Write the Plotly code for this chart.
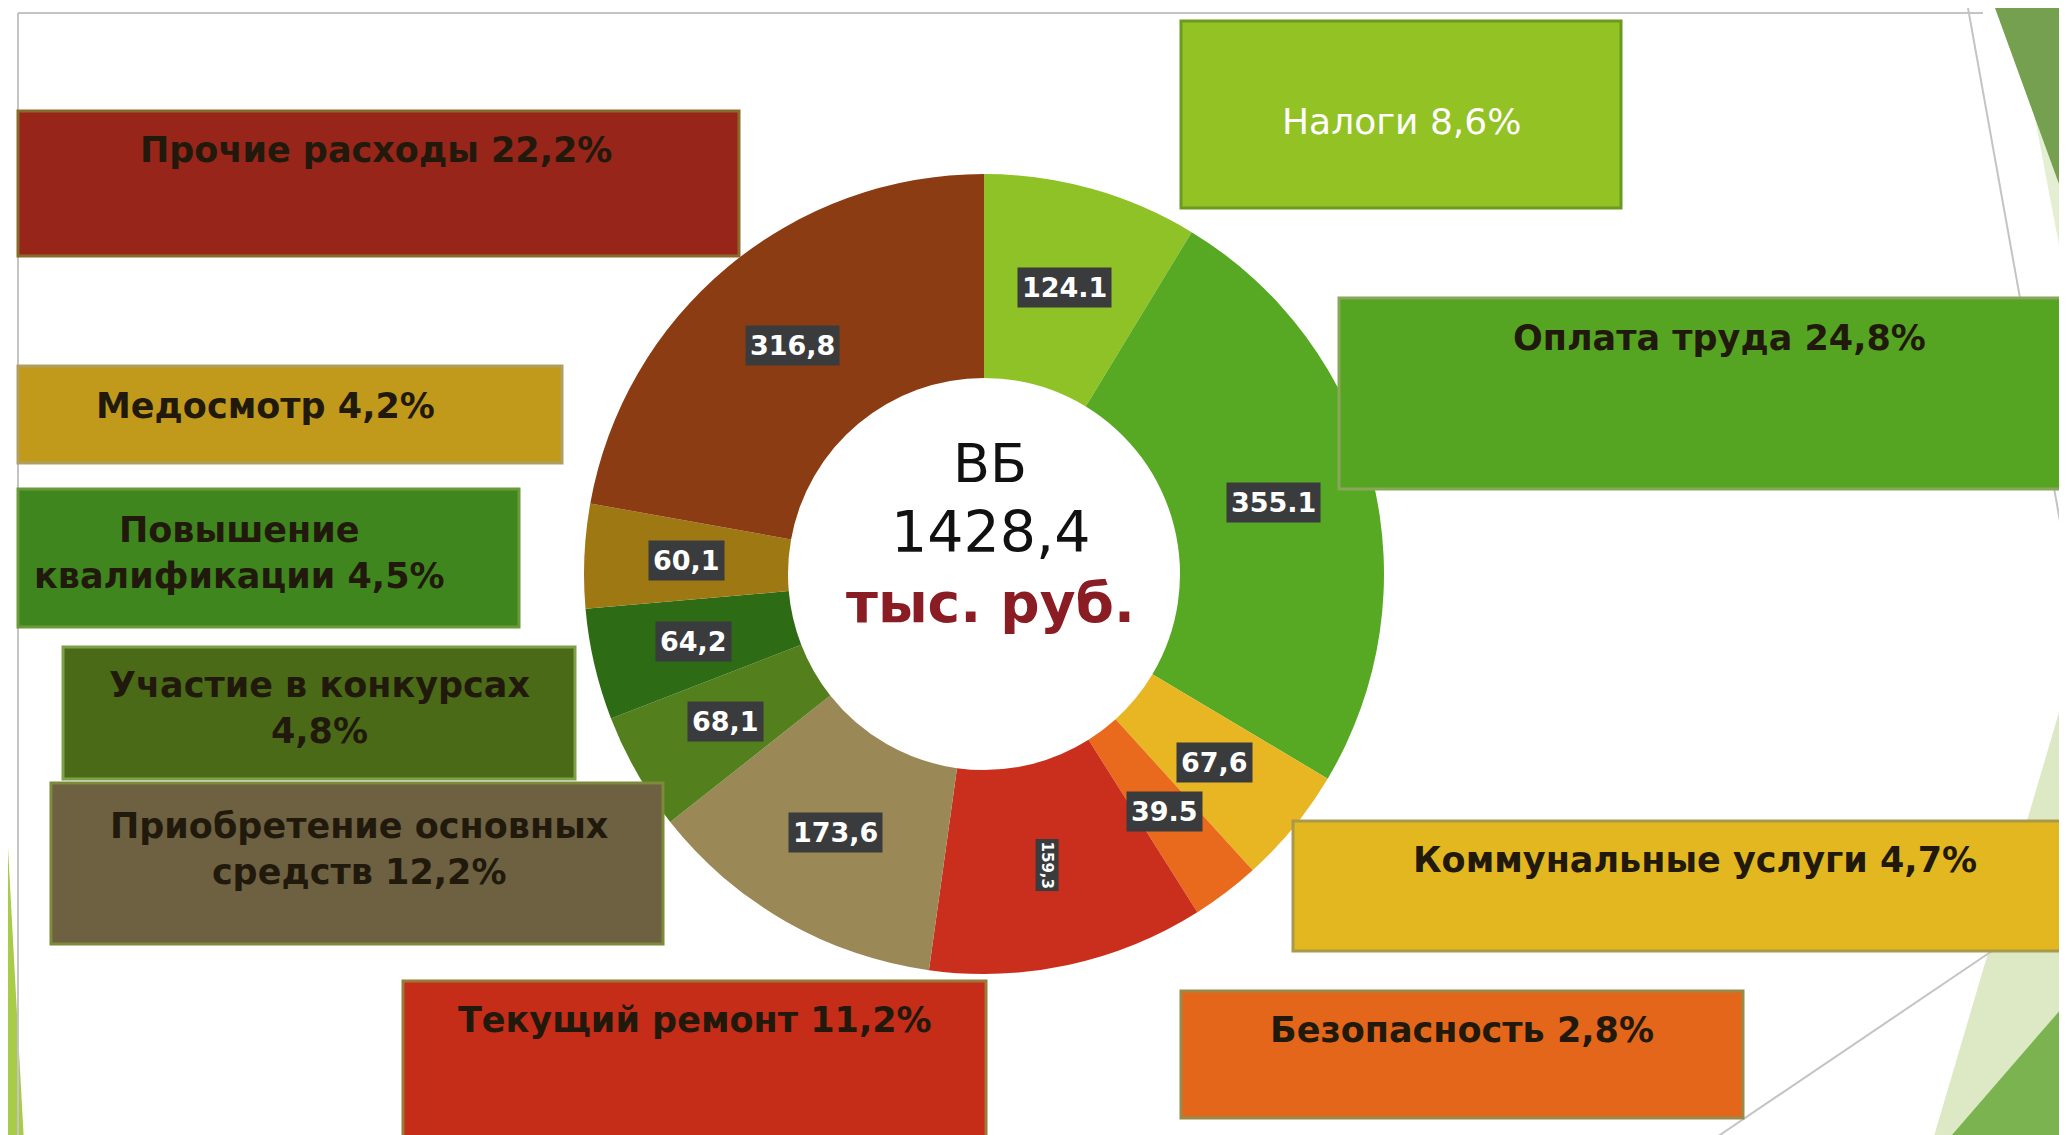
import math
import plotly.graph_objects as go

# ---------------- data ----------------
categories = ["Налоги", "Оплата труда", "Коммунальные услуги", "Безопасность",
              "Текущий ремонт", "Приобретение основных средств", "Участие в конкурсах",
              "Повышение квалификации", "Медосмотр", "Прочие расходы"]
values = [124.1, 355.1, 67.6, 39.5, 159.3, 173.6, 68.1, 64.2, 60.1, 316.8]
value_labels = ["124.1", "355.1", "67,6", "39.5", "159,3", "173,6", "68,1", "64,2", "60,1", "316,8"]
percent_labels = ["8,6%", "24,8%", "4,7%", "2,8%", "11,2%", "12,2%", "4,8%", "4,5%", "4,2%", "22,2%"]
box_titles = ["Налоги", "Оплата труда", "Коммунальные услуги", "Безопасность",
              "Текущий ремонт", "Приобретение основных<br>средств", "Участие в конкурсах<br>",
              "Повышение<br>квалификации", "Медосмотр", "Прочие расходы"]
center_title = "ВБ"
center_total = "1428,4"
center_unit = "тыс. руб."

# ---------------- style ----------------
W, H = 2067, 1135
slice_colors = ["#8fc226", "#57a822", "#e8b523", "#e96a1c", "#c92f1c",
                "#9a8857", "#537f1d", "#2d6b14", "#9d7813", "#8c3c12"]
box_colors = ["#93c225", "#55a523", "#e3b71f", "#e4661a", "#c52d19",
              "#6d6142", "#4b6a18", "#3f861f", "#c19a1c", "#97251a"]
box_lines = ["#6b9a1e", "#8aa65a", "#a89a4a", "#9a8a4a", "#9a7a3a",
             "#7d8a3a", "#7ea04a", "#6c9a3a", "#b0a060", "#8a6a2a"]
# box geometry in pixels: x0, y0, x1, y1, text-x, text-y
box_geom = [
    (1173, 13, 1613, 200, 1393, 113),
    (1331, 290, 2070, 481, 1711, 330),
    (1285, 813, 2070, 943, 1687, 852),
    (1173, 983, 1735, 1110, 1454, 1022),
    (395, 973, 978, 1140, 687, 1012),
    (43, 775, 655, 936, 351, 841),
    (55, 639, 567, 771, 311, 700),
    (10, 481, 511, 619, 231, 545),
    (10, 358, 554, 455, 257, 398),
    (10, 103, 731, 248, 368, 142),
]

cx, cy, R = 976, 566, 400
hole = 0.49
FONT = "DejaVu Sans"

fig = go.Figure()
fig.add_trace(go.Pie(
    labels=categories, values=values, sort=False, direction="clockwise", rotation=0,
    hole=hole, marker=dict(colors=slice_colors, line=dict(width=0)),
    textinfo="none", hoverinfo="label+value", showlegend=False,
    domain=dict(x=[(cx - R) / W, (cx + R) / W], y=[1 - (cy + R) / H, 1 - (cy - R) / H]),
))

shapes = []
annotations = []

# slide decorations
deco = [
    ("M 2025 100 L 2067 210 L 2067 300 L 2062 295 Z", "#e4eed2"),
    ("M 1987 0 L 2067 0 L 2067 220 Z", "#74a050"),
    ("M 1924 1135 L 2067 1135 L 2067 650 Z", "#dde9c4"),
    ("M 1937 1135 L 2067 1135 L 2067 985 Z", "#7ab34f"),
    ("M 0 840 L 16 1135 L 0 1135 Z", "#a8cc48"),
]
for p, c in deco:
    shapes.append(dict(type="path", path=p, xref="x", yref="y", fillcolor=c,
                       line=dict(width=0), layer="below"))
for x0, y0, x1, y1 in [(10, 5, 1975, 5), (10, 5, 10, 1135), (1960, 0, 2067, 597), (1700, 1135, 1984, 943)]:
    shapes.append(dict(type="line", x0=x0, y0=y0, x1=x1, y1=y1, xref="x", yref="y",
                       line=dict(color="#c4c4c4", width=2), layer="below"))

# category boxes
for i, (x0, y0, x1, y1, tx, ty) in enumerate(box_geom):
    shapes.append(dict(type="rect", x0=x0, y0=y0, x1=x1, y1=y1, xref="x", yref="y",
                       fillcolor=box_colors[i], line=dict(color=box_lines[i], width=3), layer="above"))
    title = box_titles[i]
    sep = "" if title.endswith("<br>") else " "
    text = title + sep + percent_labels[i]
    if i != 0:
        text = "<b>" + text + "</b>"
    annotations.append(dict(x=tx, y=ty, xref="x", yref="y", text=text, showarrow=False,
                            xanchor="center", yanchor="middle",
                            font=dict(family=FONT, size=36 if i == 0 else 35,
                                      color="#ffffff" if i == 0 else "#211a0c")))

# value labels placed at slice mid-angles
total = sum(values)
cum = 0.0
r_lab = R * (1 + hole) / 2
for i, v in enumerate(values):
    mid = (cum + v / 2) / total * 2 * math.pi
    cum += v
    lx = cx + r_lab * math.sin(mid)
    ly = cy - r_lab * math.cos(mid)
    small = (i == 4)
    annotations.append(dict(
        x=lx, y=ly, xref="x", yref="y", text="<b>%s</b>" % value_labels[i], showarrow=False,
        textangle=90 if small else 0,
        font=dict(family=FONT, size=15 if small else 27, color="#ffffff"),
        bgcolor="#3a3b3c", borderpad=2 if small else 4,
    ))

# centre text
annotations.append(dict(x=982, y=455, xref="x", yref="y", text=center_title, showarrow=False,
                        font=dict(family=FONT, size=54, color="#111111")))
annotations.append(dict(x=982, y=524, xref="x", yref="y", text=center_total, showarrow=False,
                        font=dict(family=FONT, size=57, color="#111111")))
annotations.append(dict(x=982, y=595, xref="x", yref="y", text="<b>%s</b>" % center_unit, showarrow=False,
                        font=dict(family=FONT, size=55, color="#8a1c24")))

fig.update_layout(
    width=W, height=H, margin=dict(l=0, r=0, t=0, b=0),
    paper_bgcolor="white", plot_bgcolor="white",
    xaxis=dict(range=[0, W], visible=False, fixedrange=True),
    yaxis=dict(range=[H, 0], visible=False, fixedrange=True),
    shapes=shapes, annotations=annotations, showlegend=False,
)
fig.write_html("out.html")
